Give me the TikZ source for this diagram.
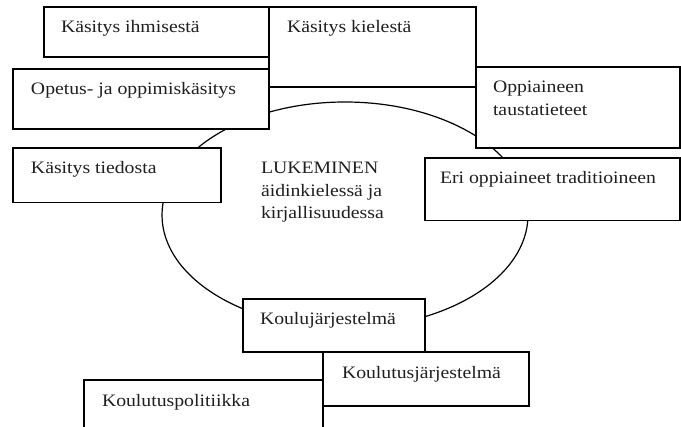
\documentclass[tikz,border=0pt]{standalone}
\usepackage{fontspec}
\setmainfont{Liberation Serif}[FakeStretch=1.13]
\usetikzlibrary{fit,shapes.geometric}

\begin{document}
\begin{tikzpicture}[
    x=0.75pt, y=-0.75pt,
    every node/.style={inner sep=0pt, outer sep=0pt},
    panel/.style={draw=black, fill=white, line width=0.9pt, rectangle},
    caption/.style={anchor=base west, align=left, text=black!88,
      font=\fontsize{13.1}{16.9}\selectfont},
    ring/.style={draw=black, line width=0.9pt, ellipse}
  ]
  \useasboundingbox (0,0) rectangle (681,427);
  \clip (0,0) rectangle (681,427);

  % central field; a multi-line caption sits on the baseline of its last line
  \node[ring, minimum width=274.5pt, minimum height=169.5pt] (core) at (345,215) {};
  \node[caption] (coretext) at (261,219) {LUKEMINEN\\äidinkielessä ja\\kirjallisuudessa};

  % surrounding boxes
  \node[panel, fit={(269,7) (476,87)}]    (kiel) {};
  \node[panel, fit={(44,7) (269,57)}]     (ihm)  {};
  \node[panel, fit={(13,69) (269,129)}]   (opet) {};
  \node[panel, fit={(13,148) (221,202.5)}] (tied) {};
  \node[panel, fit={(476,67) (680,148)}]  (taus) {};
  \node[panel, fit={(425,158) (680,220.5)}] (trad) {};
  \node[panel, fit={(243,299) (425,352)}] (kjar) {};
  \node[panel, fit={(84,380) (323,450)}]  (kpol) {};
  \node[panel, fit={(323,352) (529,406)}] (ktj)  {};

  % box texts
  \node[caption] (t-kiel) at ([shift={(18,26)}]kiel.north west) {Käsitys kielestä};
  \node[caption] (t-ihm)  at ([shift={(17,26)}]ihm.north west)  {Käsitys ihmisestä};
  \node[caption] (t-opet) at ([shift={(18,26)}]opet.north west) {Opetus- ja oppimiskäsitys};
  \node[caption] (t-tied) at ([shift={(18,26)}]tied.north west) {Käsitys tiedosta};
  \node[caption] (t-taus) at ([shift={(17,48.5)}]taus.north west) {Oppiaineen\\taustatieteet};
  \node[caption] (t-trad) at ([shift={(15,26)}]trad.north west) {Eri oppiaineet traditioineen};
  \node[caption] (t-kjar) at ([shift={(17,26)}]kjar.north west) {Koulujärjestelmä};
  \node[caption] (t-kpol) at ([shift={(18,26)}]kpol.north west) {Koulutuspolitiikka};
  \node[caption] (t-ktj)  at ([shift={(19,26)}]ktj.north west)  {Koulutusjärjestelmä};
\end{tikzpicture}
\end{document}
